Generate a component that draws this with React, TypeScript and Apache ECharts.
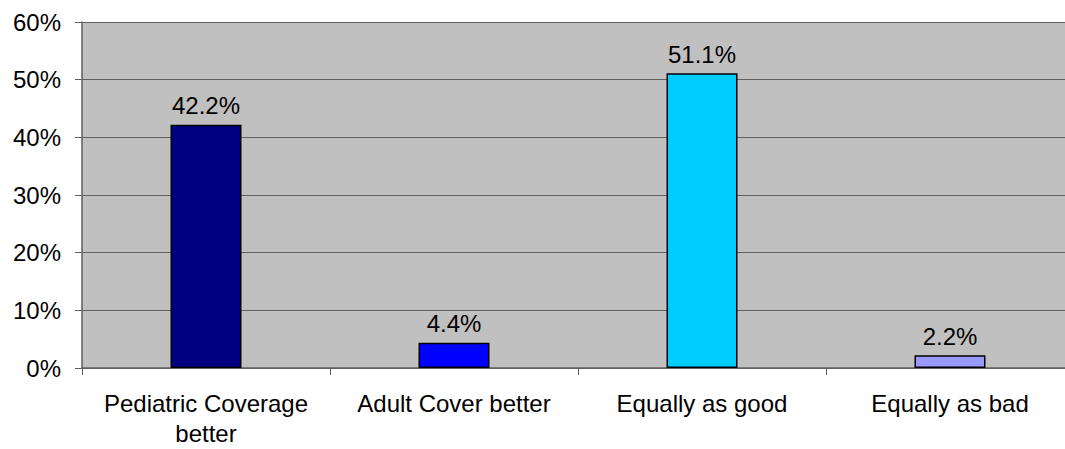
import React, { useEffect, useRef } from "react";
import * as echarts from "echarts";

const categories = ["Pediatric Coverage\nbetter", "Adult Cover better", "Equally as good", "Equally as bad"];
const values = [42.2, 4.4, 51.1, 2.2];
const barColors = ["#000080", "#0000FF", "#00CCFF", "#9999FF"];
const yTicks = [0, 10, 20, 30, 40, 50, 60];

export default function App() {
  const ref = useRef<HTMLDivElement>(null);
  useEffect(() => {
    const chart = echarts.init(ref.current!, null, { renderer: "svg" });
    const font = "Liberation Sans, Arial, sans-serif";
    chart.setOption({
      animation: false,
      grid: { left: 82, width: 992, top: 22, height: 346, outerBoundsMode: "none", containLabel: false, show: true, backgroundColor: "#C0C0C0", borderWidth: 0 },
      xAxis: {
        type: "category",
        data: categories,
        axisLine: { lineStyle: { color: "#606060", width: 1.5 } },
        axisTick: { show: true, length: 7, lineStyle: { color: "#606060" } },
        axisLabel: { color: "#000", fontFamily: font, fontSize: 24, margin: 20, lineHeight: 30, interval: 0 },
      },
      yAxis: {
        type: "value",
        min: yTicks[0],
        max: yTicks[yTicks.length - 1],
        interval: 10,
        axisLine: { show: true, lineStyle: { color: "#606060", width: 1.5 } },
        axisTick: { show: true, length: 7, lineStyle: { color: "#606060" } },
        splitLine: { lineStyle: { color: "#606060", width: 1.2 } },
        axisLabel: { color: "#000", fontFamily: font, fontSize: 24, margin: 21, formatter: "{value}%" },
      },
      series: [
        {
          type: "bar",
          data: values.map((v, i) => ({ value: v, itemStyle: { color: barColors[i] } })),
          barWidth: 71,
          itemStyle: { borderColor: "#000", borderWidth: 1.5 },
          label: { show: true, position: "top", distance: 7, color: "#000", fontFamily: font, fontSize: 24, formatter: (p: any) => p.value.toFixed(1) + "%" },
        },
      ],
    });
    return () => chart.dispose();
  }, []);
  return <div ref={ref} style={{ position: "fixed", left: 0, top: 0, width: 1065, height: 449, background: "#fff" }} />;
}
